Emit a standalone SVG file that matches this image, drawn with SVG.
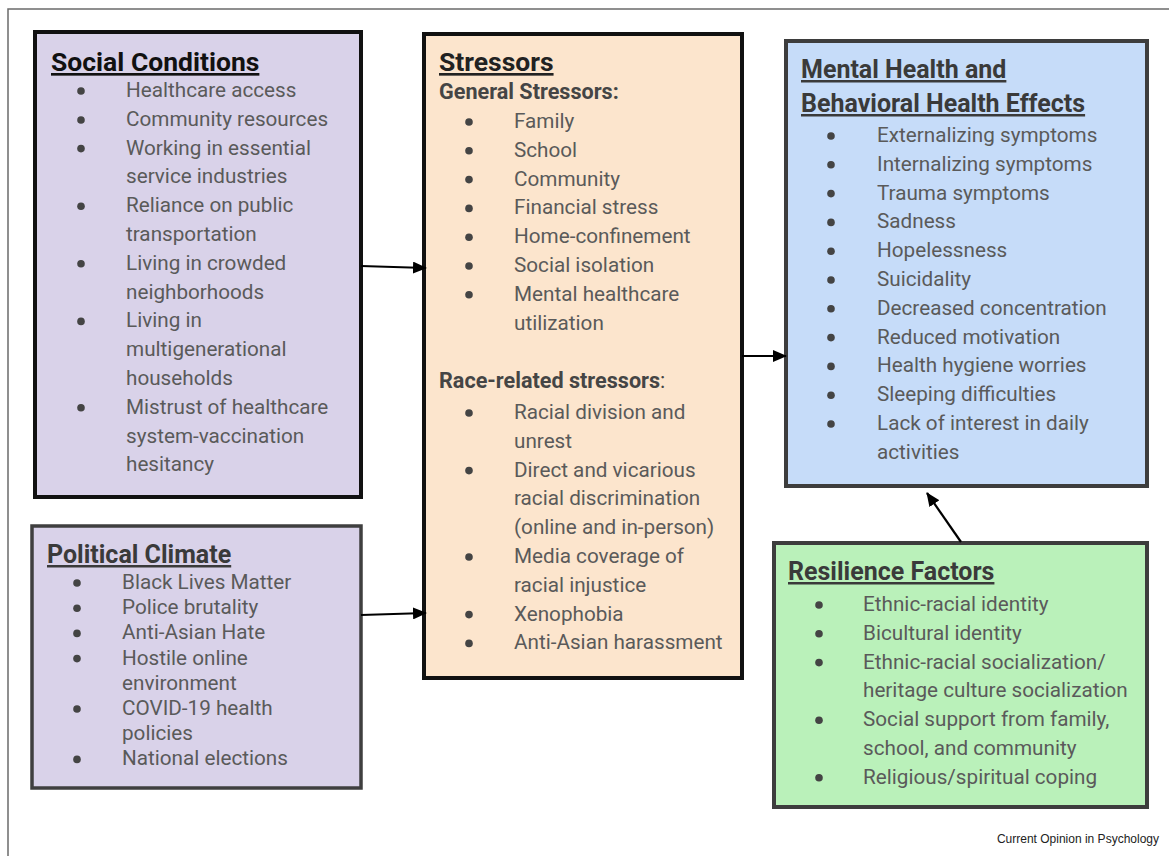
<svg xmlns="http://www.w3.org/2000/svg" width="1169" height="856" viewBox="0 0 1169 856">
  <defs>
    <style>
      .frame { fill: none; stroke: #6b6b6b; stroke-width: 1.5; }
      .box { stroke-width: 4; }
      .title { font-family: Roboto, "Liberation Sans", sans-serif; font-weight: bold; font-size: 25px; text-decoration: underline; }
      .title.big { font-size: 26.5px; }
      .sub { font-family: Roboto, "Liberation Sans", sans-serif; font-weight: bold; font-size: 21.6px; fill: #454545; }
      .item { font-family: Roboto, "Liberation Sans", sans-serif; font-size: 20.7px; fill: #5a5a5a; }
      .dot { fill: #444; }
      .conn { stroke: #000; stroke-width: 2.2; fill: none; }
      .note { font-family: "Liberation Sans", Arial, sans-serif; font-size: 12px; fill: #222; }
    </style>
    <marker id="head" viewBox="0 0 14 12" refX="13" refY="6" markerWidth="14" markerHeight="12" markerUnits="userSpaceOnUse" orient="auto">
      <path d="M0,0 L14,6 L0,12 Z" fill="#000"/>
    </marker>
  </defs>

  <rect width="1169" height="856" fill="#fff"/>
  <!-- page frame (only top and left edges fall inside the page) -->
  <rect class="frame" x="8" y="9" width="1170" height="860"/>

  <!-- Social Conditions -->
  <g id="social-conditions">
    <rect class="box" x="35" y="32" width="326" height="465" fill="#d9d2e9" stroke="#111"/>
    <text class="title big" x="51" y="71" fill="#111">Social Conditions</text>
    <g class="dot">
      <circle cx="81" cy="91" r="3.8"/><circle cx="81" cy="120" r="3.8"/><circle cx="81" cy="148.6" r="3.8"/>
      <circle cx="81" cy="206.2" r="3.8"/><circle cx="81" cy="263.8" r="3.8"/><circle cx="81" cy="321.4" r="3.8"/>
      <circle cx="81" cy="407.8" r="3.8"/>
    </g>
    <g class="item">
      <text x="126" y="97">Healthcare access</text>
      <text x="126" y="125.8">Community resources</text>
      <text x="126" y="154.6">Working in essential</text>
      <text x="126" y="183.4">service industries</text>
      <text x="126" y="212.2">Reliance on public</text>
      <text x="126" y="241">transportation</text>
      <text x="126" y="269.8">Living in crowded</text>
      <text x="126" y="298.6">neighborhoods</text>
      <text x="126" y="327.4">Living in</text>
      <text x="126" y="356.2">multigenerational</text>
      <text x="126" y="385">households</text>
      <text x="126" y="413.8">Mistrust of healthcare</text>
      <text x="126" y="442.6">system-vaccination</text>
      <text x="126" y="471.4">hesitancy</text>
    </g>
  </g>

  <!-- Political Climate -->
  <g id="political-climate">
    <rect x="32" y="526" width="329" height="262" fill="#d9d2e9" stroke="#3f3f3f" stroke-width="3.5"/>
    <text class="title" x="47" y="563" fill="#3a3a3a">Political Climate</text>
    <g class="dot">
      <circle cx="77" cy="583" r="3.8"/><circle cx="77" cy="608.2" r="3.8"/><circle cx="77" cy="633.4" r="3.8"/>
      <circle cx="77" cy="658.6" r="3.8"/><circle cx="77" cy="709" r="3.8"/><circle cx="77" cy="759.4" r="3.8"/>
    </g>
    <g class="item">
      <text x="122" y="589">Black Lives Matter</text>
      <text x="122" y="614.2">Police brutality</text>
      <text x="122" y="639.4">Anti-Asian Hate</text>
      <text x="122" y="664.6">Hostile online</text>
      <text x="122" y="689.8">environment</text>
      <text x="122" y="715">COVID-19 health</text>
      <text x="122" y="740.2">policies</text>
      <text x="122" y="765.4">National elections</text>
    </g>
  </g>

  <!-- Stressors -->
  <g id="stressors">
    <rect class="box" x="424" y="34" width="318" height="644" fill="#fce5cd" stroke="#111"/>
    <text class="title big" x="439" y="71" fill="#222">Stressors</text>
    <text class="sub" x="439" y="99">General Stressors:</text>
    <g class="dot">
      <circle cx="469" cy="122" r="3.8"/><circle cx="469" cy="150.8" r="3.8"/><circle cx="469" cy="179.6" r="3.8"/>
      <circle cx="469" cy="208.4" r="3.8"/><circle cx="469" cy="237.2" r="3.8"/><circle cx="469" cy="266" r="3.8"/>
      <circle cx="469" cy="294.8" r="3.8"/>
      <circle cx="469" cy="413" r="3.8"/><circle cx="469" cy="470.6" r="3.8"/><circle cx="469" cy="557" r="3.8"/>
      <circle cx="469" cy="614.6" r="3.8"/><circle cx="469" cy="643.4" r="3.8"/>
    </g>
    <g class="item">
      <text x="514" y="128">Family</text>
      <text x="514" y="156.8">School</text>
      <text x="514" y="185.6">Community</text>
      <text x="514" y="214.4">Financial stress</text>
      <text x="514" y="243.2">Home-confinement</text>
      <text x="514" y="272">Social isolation</text>
      <text x="514" y="300.8">Mental healthcare</text>
      <text x="514" y="329.6">utilization</text>
    </g>
    <text class="sub" x="439" y="388">Race-related stressors<tspan font-weight="normal">:</tspan></text>
    <g class="item">
      <text x="514" y="419">Racial division and</text>
      <text x="514" y="447.8">unrest</text>
      <text x="514" y="476.6">Direct and vicarious</text>
      <text x="514" y="505.4">racial discrimination</text>
      <text x="514" y="534.2">(online and in-person)</text>
      <text x="514" y="563">Media coverage of</text>
      <text x="514" y="591.8">racial injustice</text>
      <text x="514" y="620.6">Xenophobia</text>
      <text x="514" y="649.4">Anti-Asian harassment</text>
    </g>
  </g>

  <!-- Mental Health and Behavioral Health Effects -->
  <g id="mental-health-effects">
    <rect class="box" x="786" y="41" width="361" height="445" fill="#c6dcf9" stroke="#3d3d3d"/>
    <text class="title" x="801" y="78" fill="#3a3a3a">Mental Health and</text>
    <text class="title" x="801" y="112" fill="#3a3a3a">Behavioral Health Effects</text>
    <g class="dot">
      <circle cx="831" cy="136" r="3.8"/><circle cx="831" cy="164.8" r="3.8"/><circle cx="831" cy="193.6" r="3.8"/>
      <circle cx="831" cy="222.4" r="3.8"/><circle cx="831" cy="251.2" r="3.8"/><circle cx="831" cy="280" r="3.8"/>
      <circle cx="831" cy="308.8" r="3.8"/><circle cx="831" cy="337.6" r="3.8"/><circle cx="831" cy="366.4" r="3.8"/>
      <circle cx="831" cy="395.2" r="3.8"/><circle cx="831" cy="424" r="3.8"/>
    </g>
    <g class="item">
      <text x="877" y="142">Externalizing symptoms</text>
      <text x="877" y="170.8">Internalizing symptoms</text>
      <text x="877" y="199.6">Trauma symptoms</text>
      <text x="877" y="228.4">Sadness</text>
      <text x="877" y="257.2">Hopelessness</text>
      <text x="877" y="286">Suicidality</text>
      <text x="877" y="314.8">Decreased concentration</text>
      <text x="877" y="343.6">Reduced motivation</text>
      <text x="877" y="372.4">Health hygiene worries</text>
      <text x="877" y="401.2">Sleeping difficulties</text>
      <text x="877" y="430">Lack of interest in daily</text>
      <text x="877" y="458.8">activities</text>
    </g>
  </g>

  <!-- Resilience Factors -->
  <g id="resilience-factors">
    <rect class="box" x="774" y="543" width="373" height="264" fill="#baf1ba" stroke="#3d3d3d"/>
    <text class="title" x="788" y="580" fill="#3a3a3a">Resilience Factors</text>
    <g class="dot">
      <circle cx="819" cy="605" r="3.8"/><circle cx="819" cy="633.8" r="3.8"/><circle cx="819" cy="662.6" r="3.8"/>
      <circle cx="819" cy="720.2" r="3.8"/><circle cx="819" cy="777.8" r="3.8"/>
    </g>
    <g class="item">
      <text x="863" y="611">Ethnic-racial identity</text>
      <text x="863" y="639.8">Bicultural identity</text>
      <text x="863" y="668.6">Ethnic-racial socialization/</text>
      <text x="863" y="697.4">heritage culture socialization</text>
      <text x="863" y="726.2">Social support from family,</text>
      <text x="863" y="755">school, and community</text>
      <text x="863" y="783.8">Religious/spiritual coping</text>
    </g>
  </g>

  <!-- connectors -->
  <g id="connectors">
    <line class="conn" x1="361" y1="266" x2="426" y2="268" marker-end="url(#head)"/>
    <line class="conn" x1="361" y1="615" x2="426" y2="613" marker-end="url(#head)"/>
    <line class="conn" x1="742" y1="356" x2="786" y2="356" marker-end="url(#head)"/>
    <line class="conn" x1="961" y1="542" x2="927" y2="493" marker-end="url(#head)"/>
  </g>

  <text class="note" x="1159" y="843" text-anchor="end">Current Opinion in Psychology</text>
</svg>
